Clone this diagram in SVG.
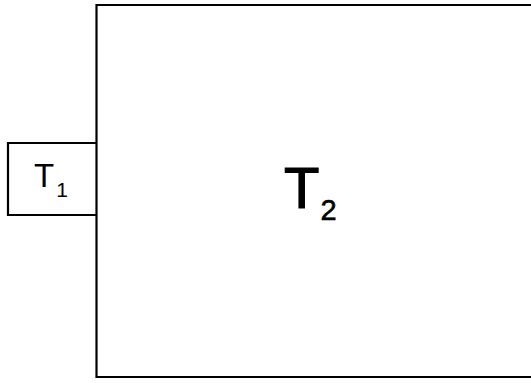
<svg xmlns="http://www.w3.org/2000/svg" width="531" height="383" viewBox="0 0 531 383">
<style>
.box{fill:none;stroke:#000;stroke-width:2.2}
.t{font-family:"Liberation Sans",Arial,sans-serif;fill:#000}
</style>
<rect width="531" height="383" fill="#fff"/>
<g id="T2">
<path class="box" d="M533,5 H96.5 V377 H533"/>
<text class="t" x="284" y="208" font-size="58" stroke="#000" stroke-width="1.2">T<tspan font-size="29" dy="12" dx="1" stroke-width="0.6">2</tspan></text>
</g>
<g id="T1">
<path class="box" d="M96.5,143 H8 V215 H96.5"/>
<text class="t" x="34" y="187" font-size="33">T<tspan font-size="21" dy="10" dx="2">1</tspan></text>
</g>
<g id="connectors"/>
</svg>
